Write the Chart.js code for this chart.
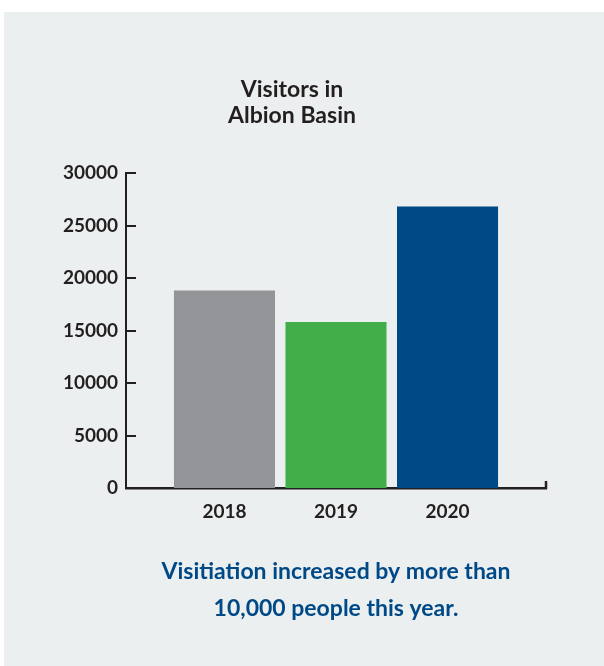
<!DOCTYPE html>
<html>
<head>
<meta charset="utf-8">
<script src="https://cdn.jsdelivr.net/npm/chart.js@4/dist/chart.umd.min.js"></script>
<style>
  html, body { margin: 0; padding: 0; background: #fff; }
  #panel { position: absolute; left: 4px; top: 12px; width: 600px; height: 654px; background: #ebeff0; }
</style>
</head>
<body>
<div id="panel"><canvas id="visitorsChart"></canvas></div>
<script>
// Data
const years = [2018, 2019, 2020];
const visitors = [18800, 15800, 26800];
const barColors = ['#939598', '#41ae4a', '#004987'];
const yTicks = [0, 5000, 10000, 15000, 20000, 25000, 30000];
const titleLines = ['Visitors in', 'Albion Basin'];
const noteLines = ['Visitiation increased by more than', '10,000 people this year.'];

const ink = '#231f20';

// Inward ticks on the y axis and the small end tick on the x axis
const axisTicks = {
  id: 'axisTicks',
  afterDraw(chart) {
    const ctx = chart.ctx;
    const area = chart.chartArea;
    const y = chart.scales.y;
    ctx.save();
    ctx.strokeStyle = ink;
    ctx.lineWidth = 2;
    y.ticks.forEach(t => {
      const py = Math.round(y.getPixelForValue(t.value));
      ctx.beginPath();
      ctx.moveTo(area.left, py);
      ctx.lineTo(area.left + 10, py);
      ctx.stroke();
    });
    ctx.lineWidth = 2.5;
    ctx.beginPath();
    ctx.moveTo(area.right, area.bottom + 1);
    ctx.lineTo(area.right, area.bottom - 7);
    ctx.stroke();
    ctx.restore();
  }
};

const ctx = document.getElementById('visitorsChart').getContext('2d');

new Chart(ctx, {
  type: 'bar',
  data: {
    labels: years,
    datasets: [{
      label: 'Visitors',
      data: visitors,
      backgroundColor: barColors,
      borderWidth: 0,
      barPercentage: 0.906,
      categoryPercentage: 1
    }]
  },
  options: {
    responsive: true,
    maintainAspectRatio: false,
    animation: false,
    layout: { padding: { left: 34, right: 58, top: 0, bottom: 0 } },
    plugins: {
      legend: { display: false },
      tooltip: { enabled: false },
      title: {
        display: true,
        text: titleLines,
        color: ink,
        font: { family: 'Lato', size: 23, weight: 'bold', lineHeight: '26.5px' },
        padding: { top: 64, bottom: 44 }
      },
      subtitle: {
        display: true,
        position: 'bottom',
        fullSize: false,
        text: noteLines,
        color: '#004987',
        font: { family: 'Lato', size: 23, weight: 'bold', lineHeight: '37px' },
        padding: { top: 25, bottom: 39 }
      }
    },
    scales: {
      x: {
        type: 'linear',
        offset: false,
        min: 2017.117,
        max: 2020.883,
        grid: { display: false, offset: false },
        border: { display: true, color: ink, width: 2.5 },
        afterBuildTicks: scale => { scale.ticks = years.map(v => ({ value: v })); },
        afterFit: scale => { scale.height = 40; },
        ticks: {
          color: ink,
          padding: 4,
          font: { family: 'Lato', size: 19, weight: 'bold' },
          callback: v => String(v)
        }
      },
      y: {
        min: 0,
        max: 30000,
        grid: { display: false },
        border: { display: true, color: ink, width: 2 },
        afterBuildTicks: scale => { scale.ticks = yTicks.map(v => ({ value: v })); },
        afterFit: scale => { scale.width = 88; },
        ticks: {
          color: ink,
          padding: 0,
          font: { family: 'Lato', size: 19, weight: 'bold' },
          callback: v => String(v)
        }
      }
    }
  },
  plugins: [axisTicks]
});
</script>
</body>
</html>
